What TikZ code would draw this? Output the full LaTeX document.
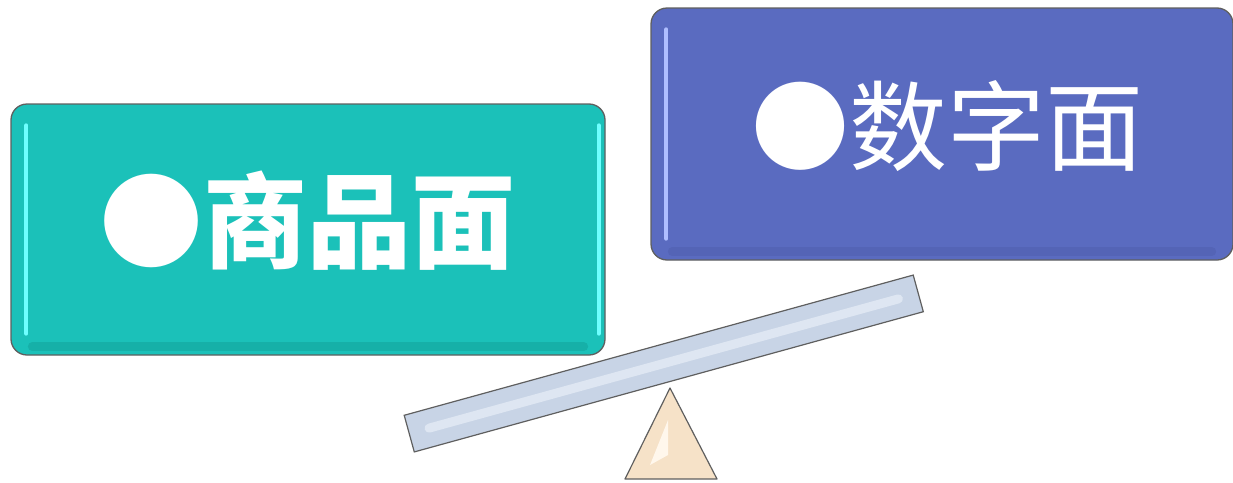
\documentclass[tikz,border=0pt]{standalone}
\usepackage{fontspec}
\newfontfamily\cjk{Noto Sans CJK SC}
\usetikzlibrary{calc}
\definecolor{tealc}{RGB}{27,193,185}
\definecolor{tealdk}{RGB}{22,176,168}
\definecolor{tealhi}{RGB}{110,255,255}
\definecolor{bluec}{RGB}{90,107,192}
\definecolor{bluedk}{RGB}{84,100,182}
\definecolor{bluehi}{RGB}{175,190,255}
\definecolor{beamc}{RGB}{200,212,230}
\definecolor{beamhi}{RGB}{222,230,242}
\definecolor{tric}{RGB}{246,226,200}
\definecolor{trihi}{RGB}{255,247,236}
\definecolor{edgec}{RGB}{95,95,95}
\begin{document}
\begin{tikzpicture}[x=1pt,y=-1pt,
  panel/.style={draw=edgec, line width=1.3pt, rounded corners=16pt, inner sep=0pt},
  label/.style={text=white, anchor=base, inner sep=0pt},
  hiline/.style={line width=4pt, line cap=round},
  beambox/.style={draw=edgec, line width=1.2pt, fill=beamc, inner sep=0pt,
    minimum width=528pt, minimum height=38pt, rotate=15.4},
  fulcrum/.style={draw=edgec, line width=1.2pt, fill=tric, line join=round}
]
\useasboundingbox (0,0) rectangle (1233,482);
% left panel
\node[panel, fill=tealc, minimum width=594pt, minimum height=251pt] (L) at (308,229.5) {};
\draw[tealdk, line width=9pt, line cap=round] ([xshift=22pt,yshift=9pt]L.south west) -- ([xshift=-22pt,yshift=9pt]L.south east);
\draw[tealhi, hiline] ([xshift=16pt,yshift=-22pt]L.north west) -- ([xshift=16pt,yshift=22pt]L.south west);
\draw[tealhi, hiline] ([xshift=-7pt,yshift=-22pt]L.north east) -- ([xshift=-7pt,yshift=22pt]L.south east);
\node[label, font=\cjk\bfseries\fontsize{104}{110}\selectfont] (Lt) at (307,260) {●商品面};
% right panel
\node[panel, fill=bluec, minimum width=582pt, minimum height=252pt] (R) at (942,134) {};
\draw[bluedk, line width=9pt, line cap=round] ([xshift=22pt,yshift=9pt]R.south west) -- ([xshift=-22pt,yshift=9pt]R.south east);
\draw[bluehi, hiline] ([xshift=16pt,yshift=-22pt]R.north west) -- ([xshift=16pt,yshift=22pt]R.south west);
\node[label, font=\cjk\fontsize{98}{100}\selectfont] (Rt) at (947,163) {●数字面};
% beam
\node[beambox] (B) at (663.75,363.5) {};
\draw[beamhi, line width=9pt, line cap=round] ($(B.west)!0.04!(B.east)$) -- ($(B.east)!0.04!(B.west)$);
% fulcrum
\draw[fulcrum] (670,388) -- (717,479) -- (625,479) -- cycle;
\fill[trihi] (668,420) -- (668,455) -- (650,465) -- cycle;
\end{tikzpicture}
\end{document}
